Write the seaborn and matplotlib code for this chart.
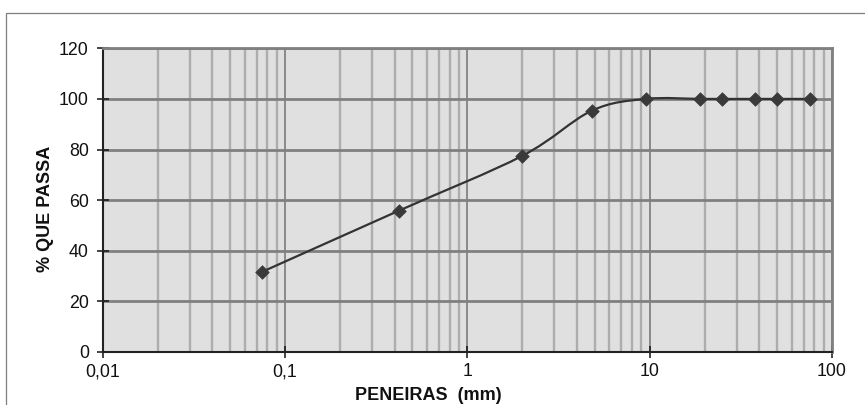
import numpy as np
import pandas as pd
import seaborn as sns
import matplotlib
matplotlib.use("Agg")
import matplotlib.pyplot as plt
from matplotlib.path import Path
from matplotlib.patches import PathPatch, Rectangle
from matplotlib.ticker import FixedLocator, FixedFormatter, LogLocator, NullFormatter

# ---- data ----
sieve_mm = [0.075, 0.42, 2.0, 4.8, 9.5, 19, 25, 38, 50, 76]
passing = [31.7, 55.8, 77.5, 95.3, 100, 100, 100, 100, 100, 100]
x_ticks = [0.01, 0.1, 1, 10, 100]
x_tick_labels = ["0,01", "0,1", "1", "10", "100"]
y_ticks = [0, 20, 40, 60, 80, 100, 120]
x_label = "PENEIRAS  (mm)"
y_label = "% QUE PASSA"

df = pd.DataFrame({"sieve": sieve_mm, "passing": passing})

sns.set_style("white")
plt.rcParams["font.family"] = ["Liberation Sans", "DejaVu Sans"]

W, H = 865, 405
fig = plt.figure(figsize=(W / 100, H / 100), dpi=100)
ax = fig.add_axes([102.7 / W, 1 - 352 / H, (832 - 102.7) / W, (352 - 48.3) / H])
ax.set_facecolor("#E0E0E0")

ax.set_xscale("log")
ax.set_xlim(0.01, 100)
ax.set_ylim(0, 120)

# smoothed line (Excel-like Catmull-Rom Bezier in log-x / y space)
P = np.column_stack([np.log10(df["sieve"].to_numpy()), df["passing"].to_numpy()])
n = len(P)
verts = [P[0]]
codes = [Path.MOVETO]
for i in range(n - 1):
    p0 = P[i - 1] if i > 0 else P[i]
    p3 = P[i + 2] if i + 2 < n else P[i + 1]
    c1 = P[i] + (P[i + 1] - p0) / 6.0
    c2 = P[i + 1] - (p3 - P[i]) / 6.0
    verts += [c1, c2, P[i + 1]]
    codes += [Path.CURVE4] * 3
verts = np.array(verts)
verts[:, 0] = 10 ** verts[:, 0]
ax.add_patch(PathPatch(Path(verts, codes), facecolor="none", edgecolor="#333333",
                       lw=1.6, zorder=3, transform=ax.transData))

sns.scatterplot(data=df, x="sieve", y="passing", marker="D", s=48, color="#3A3A3A",
                edgecolor="#3A3A3A", linewidth=0.5, zorder=4, ax=ax, legend=False)

# ticks
ax.xaxis.set_major_locator(FixedLocator(x_ticks))
ax.xaxis.set_major_formatter(FixedFormatter(x_tick_labels))
ax.xaxis.set_minor_locator(LogLocator(base=10, subs=np.arange(2, 10), numticks=20))
ax.xaxis.set_minor_formatter(NullFormatter())
ax.set_yticks(y_ticks)
ax.set_yticklabels([str(v) for v in y_ticks])

ax.tick_params(axis="both", which="major", direction="inout", length=8, width=1.1,
               color="#111111", labelsize=12.8, labelcolor="#111111")
ax.tick_params(axis="x", which="major", pad=4)
ax.tick_params(axis="y", which="major", pad=6)
ax.tick_params(axis="x", which="minor", length=0)
ax.tick_params(bottom=True, left=True, top=False, right=False)

# grid
ax.set_axisbelow(True)
ax.grid(which="minor", axis="x", color="#ADADAD", lw=1.7)
ax.grid(which="major", axis="x", color="#7A7A7A", lw=1.2)
ax.grid(which="major", axis="y", color="#808080", lw=2.0)

for side in ["left", "bottom"]:
    ax.spines[side].set_color("#222222")
    ax.spines[side].set_linewidth(1.5)
    ax.spines[side].set_zorder(2.5)
for side in ["top", "right"]:
    ax.spines[side].set_color("#808080")
    ax.spines[side].set_linewidth(2.0)

ax.set_xlabel(x_label, fontsize=13, fontweight="bold", color="#111111")
ax.set_ylabel(y_label, fontsize=13, fontweight="bold", color="#111111")
ax.xaxis.label.set_va("center")
ax.xaxis.set_label_coords((428 - 102.7) / (832 - 102.7), (352 - 396) / (352 - 48.3))
ax.yaxis.label.set_va("center")
ax.yaxis.set_label_coords((46 - 102.7) / (832 - 102.7), (352 - 209) / (352 - 48.3))

# chart area border
fig.patches.append(Rectangle((6 / W, -0.2), 1.5, 1.2 - 12.5 / H, transform=fig.transFigure,
                             fill=False, edgecolor="#7F7F7F", lw=0.9))

fig.savefig("out.png", dpi=100, facecolor="white")
